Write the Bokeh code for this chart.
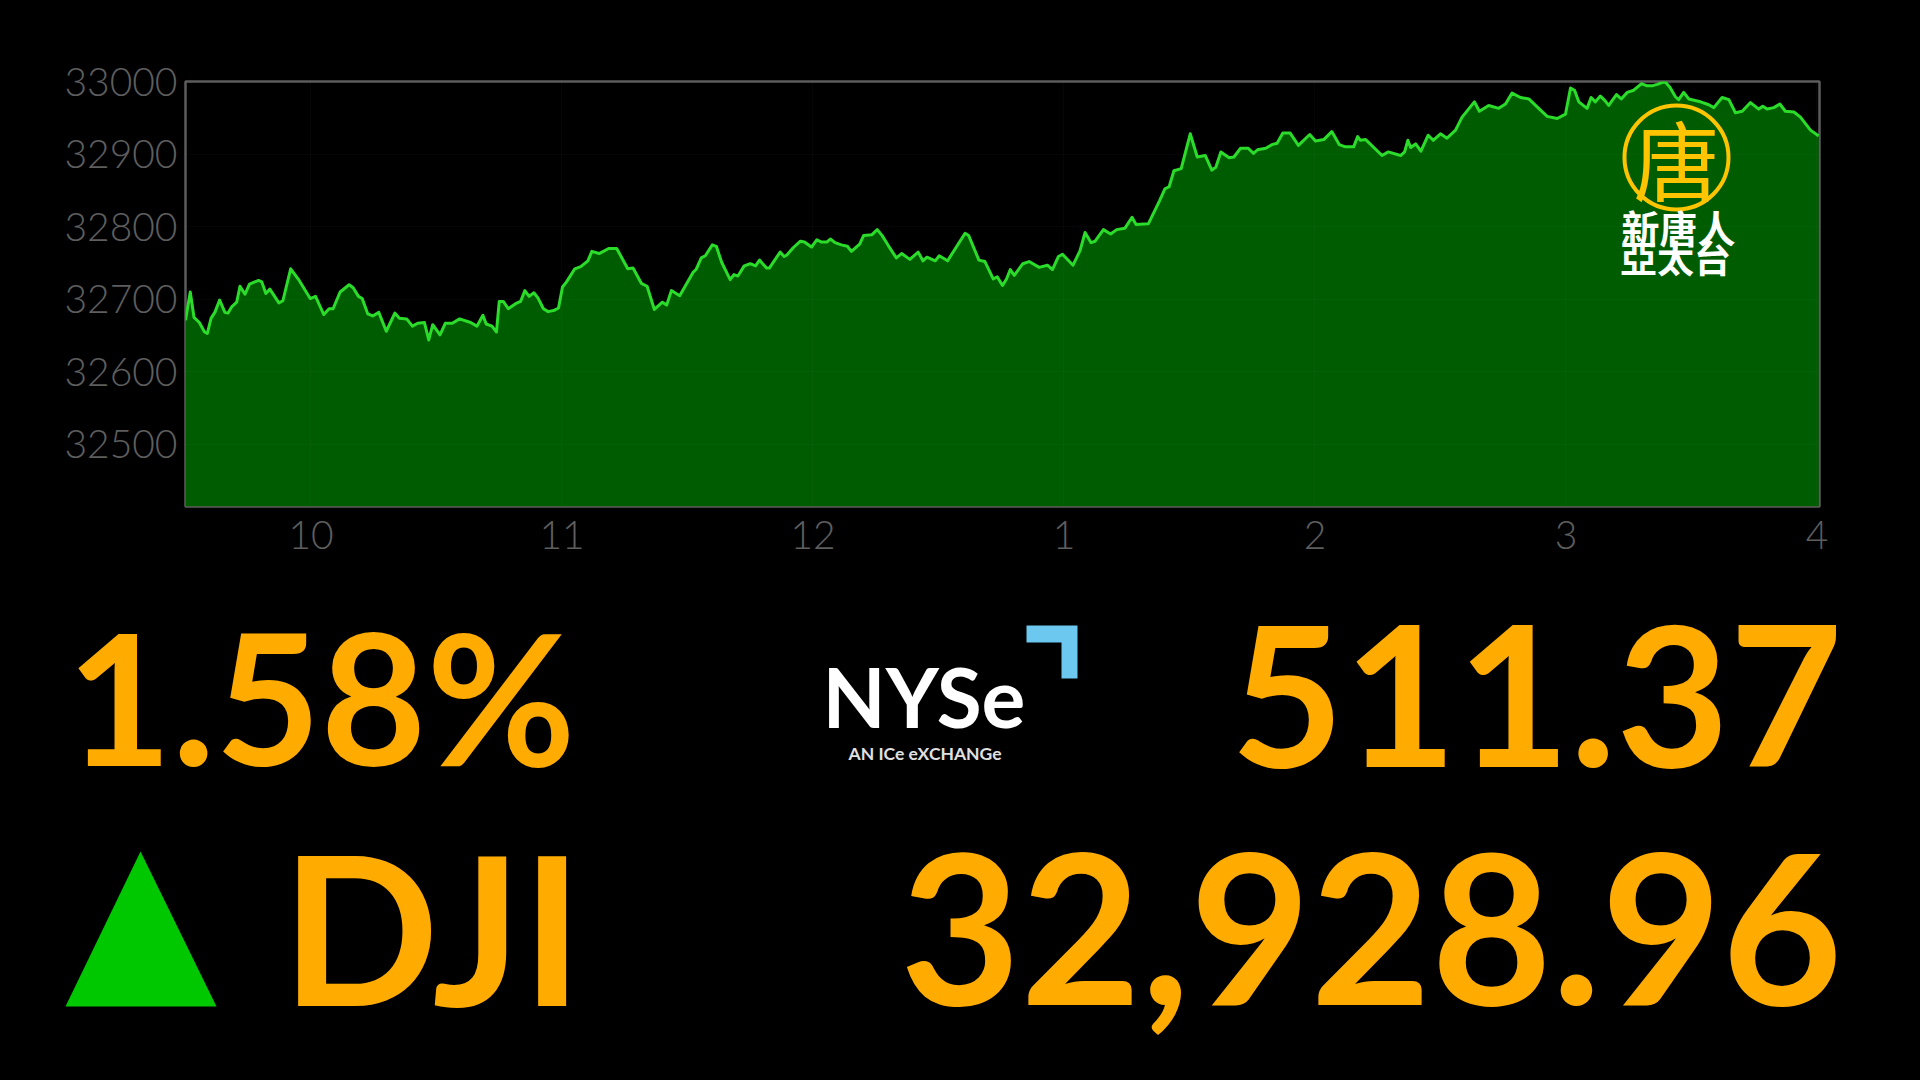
from bokeh.plotting import figure
from bokeh.layouts import column
from bokeh.models import FixedTicker, Range1d
from bokeh.core.properties import value
from bokeh.embed import file_html
from bokeh.resources import INLINE

times = [9.50,9.519,9.534,9.555,9.576,9.587,9.602,9.617,9.636,9.657,9.669,9.685,9.704,9.717,9.737,9.755,9.791,9.804,9.820,9.836,9.872,9.888,9.919,9.953,9.997,
10.018,10.051,10.072,10.088,10.116,10.152,10.168,10.189,10.204,10.226,10.246,10.270,10.300,10.334,10.352,10.381,10.404,10.425,10.452,10.469,10.485,10.514,10.535,10.563,10.592,10.636,10.661,10.685,10.698,10.721,10.739,10.750,10.766,10.786,10.815,10.835,10.852,10.869,10.888,10.904,10.926,10.945,10.970,10.986,
11.002,11.018,11.051,11.075,11.103,11.119,11.148,11.186,11.218,11.262,11.283,11.316,11.339,11.368,11.400,11.417,11.436,11.469,11.522,11.534,11.555,11.571,11.599,11.615,11.636,11.670,11.685,11.701,11.726,11.750,11.771,11.787,11.815,11.826,11.869,11.885,11.896,11.921,11.950,11.966,11.994,
12.015,12.032,12.056,12.069,12.088,12.113,12.137,12.153,12.186,12.202,12.235,12.256,12.275,12.300,12.332,12.353,12.386,12.419,12.438,12.454,12.487,12.503,12.536,12.606,12.620,12.661,12.685,12.718,12.734,12.755,12.771,12.786,12.802,12.836,12.861,12.901,12.934,12.954,12.978,12.994,
13.036,13.064,13.084,13.108,13.124,13.157,13.186,13.210,13.243,13.271,13.287,13.336,13.381,13.402,13.419,13.438,13.467,13.503,13.531,13.563,13.589,13.605,13.625,13.658,13.677,13.703,13.734,13.755,13.771,13.804,13.828,13.849,13.872,13.901,13.934,13.979,
14.002,14.035,14.067,14.097,14.121,14.154,14.170,14.181,14.202,14.267,14.292,14.341,14.357,14.370,14.381,14.401,14.422,14.451,14.471,14.500,14.526,14.560,14.586,14.619,14.635,14.655,14.692,14.732,14.759,14.785,14.819,14.852,14.885,14.925,14.965,14.998,
15.018,15.034,15.051,15.084,15.100,15.117,15.137,15.157,15.170,15.201,15.220,15.244,15.270,15.301,15.323,15.343,15.363,15.394,15.414,15.436,15.449,15.469,15.489,15.536,15.569,15.589,15.622,15.649,15.675,15.702,15.735,15.768,15.784,15.801,15.828,15.852,15.874,15.908,15.934,15.974,16.007]

dji = [32671,32710,32675,32668,32655,32653,32674,32682,32699,32682,32681,32690,32696,32718,32707,32721,32726,32724,32708,32714,32695,32698,32742,32726,32701,
32704,32679,32687,32687,32710,32720,32716,32704,32701,32680,32677,32682,32656,32681,32674,32673,32663,32667,32668,32644,32665,32651,32667,32667,32673,32668,32663,32678,32666,32663,32655,32697,32697,32687,32694,32697,32712,32704,32709,32702,32687,32683,32685,32688,
32717,32724,32742,32745,32753,32766,32763,32770,32770,32742,32743,32722,32718,32686,32696,32692,32712,32705,32737,32741,32757,32760,32775,32773,32751,32727,32734,32732,32746,32749,32746,32754,32743,32743,32765,32759,32761,32771,32780,32779,32772,
32782,32779,32779,32783,32778,32775,32773,32766,32776,32788,32789,32796,32788,32774,32757,32763,32755,32765,32753,32758,32753,32760,32753,32791,32788,32754,32752,32728,32731,32719,32728,32741,32733,32749,32752,32744,32747,32741,32759,32762,
32747,32767,32792,32778,32780,32796,32790,32796,32798,32813,32803,32804,32836,32852,32855,32877,32880,32928,32896,32898,32878,32882,32903,32895,32896,32908,32908,32901,32906,32908,32913,32915,32929,32929,32912,32927,
32918,32920,32931,32913,32910,32910,32924,32919,32920,32898,32903,32898,32903,32919,32909,32914,32904,32926,32919,32928,32922,32933,32951,32965,32972,32959,32967,32963,32969,32984,32978,32976,32965,32952,32949,32955,
32991,32988,32972,32963,32978,32972,32980,32973,32967,32982,32976,32985,32988,32997,32994,32994,32996,33000,32992,32979,32975,32985,32976,32972,32968,32964,32978,32975,32957,32959,32971,32962,32966,32962,32964,32969,32959,32958,32951,32933,32925]

y_ticks = [32500, 32600, 32700, 32800, 32900, 33000]
x_ticks = [10, 11, 12, 13, 14, 15, 16]
x_labels = ["10", "11", "12", "1", "2", "3", "4"]
percent_text = "1.58%"
change_text = "511.37"
index_text = "DJI"
close_text = "32,928.96"

AXIS_FONT = "Lato Light"
BIG_FONT = "Lato"
CJK = "Noto Sans CJK TC"
AMBER = "#ffab00"

Y_MIN, Y_MAX = 32414.6, 33000.0
X_MIN, X_MAX = 9.5, 16.01

p = figure(width=1904, height=566, x_range=Range1d(X_MIN, X_MAX), y_range=Range1d(Y_MIN, Y_MAX),
           output_backend="svg", toolbar_location=None, background_fill_color="#000000",
           border_fill_color="#000000", min_border_left=185, min_border_right=85,
           min_border_top=81, min_border_bottom=60, frame_align=False)
p.outline_line_color = "#5c5c5c"
p.outline_line_width = 2.5

p.varea(times, [Y_MIN] * len(times), dji, fill_color="#005c00")
p.line(times, dji, line_color="#2bdc2b", line_width=3, line_join="round")

for ax in (p.xaxis, p.yaxis):
    ax.axis_line_color = None
    ax.major_tick_line_color = None
    ax.minor_tick_line_color = None
    ax.major_label_text_color = "#5e5e5e"
    ax.major_label_text_font = AXIS_FONT
    ax.major_label_text_font_size = "39px"
p.xaxis.ticker = FixedTicker(ticks=x_ticks)
p.xaxis.major_label_overrides = dict(zip(x_ticks, x_labels))
p.xaxis.major_label_standoff = 8
p.yaxis.ticker = FixedTicker(ticks=y_ticks)
p.yaxis.major_label_standoff = 2
p.yaxis.formatter.use_scientific = False
p.grid.grid_line_color = "#ffffff"
p.grid.grid_line_alpha = 0.025
p.grid.level = "overlay"

def dx(px):
    return X_MIN + (px - 185) / 251.0
def dy(py):
    return Y_MAX - (py - 81) / 0.726

# watermark
p.scatter([dx(1676)], [dy(157)], size=104, marker="circle", fill_color=None, line_color="#ffc400", line_width=4)
p.text([dx(1676)], [dy(157)], text=["唐"], text_color="#ffc400", text_font=value(CJK), text_font_size="86px",
       text_align="center", text_baseline="middle")
p.text([dx(1678)], [dy(226)], text=["新唐人"], text_color="#ffffff", text_font=value(CJK), text_font_size="38px",
       text_align="center", text_baseline="middle", text_font_style="bold")
p.text([dx(1675)], [dy(257)], text=["亞太台"], text_color="#ffffff", text_font=value(CJK), text_font_size="37px",
       text_align="center", text_baseline="middle", text_font_style="bold")

# lower panel works in page pixels
q = figure(width=1904, height=506, x_range=Range1d(0, 1904), y_range=Range1d(1072, 566),
           output_backend="svg", toolbar_location=None, background_fill_color="#000000",
           border_fill_color="#000000", min_border=0, frame_align=False)
q.axis.visible = False
q.grid.visible = False
q.outline_line_color = None

def big(x, y, s, size, align="left"):
    # the SVG text sits lower than its alphabetic anchor by about 0.385 of its size
    q.text([x], [y - 0.385 * size], text=[s], text_color=AMBER, text_font=value(BIG_FONT),
           text_font_size=f"{size}px", text_font_style="bold", text_align=align, text_baseline="alphabetic")

big(66, 765, percent_text, 182)
big(1842, 771, change_text, 195, "right")
big(281, 1005, index_text, 207)
big(1842, 1009, close_text, 208, "right")

q.patch([65, 140, 216], [1006, 851, 1006], fill_color="#00c800", line_color=None)
q.patch([1026, 1077, 1077, 1061, 1061, 1026], [625, 625, 678, 678, 642, 642], fill_color="#6cc8ee", line_color=None)
q.text([822], [727 - 0.385 * 82], text=["NYSe"], text_color="#ffffff", text_font=value("Lato"), text_font_size="82px",
       text_font_style="bold", text_baseline="alphabetic")
q.text([848], [760 - 0.385 * 17.5], text=["AN ICe eXCHANGe"], text_color="#e0e0e0", text_font=value("Lato"),
       text_font_size="17.5px", text_font_style="bold", text_baseline="alphabetic")

layout = column(p, q, spacing=0)
html = file_html(layout, INLINE)
html = html.replace("<head>", "<head><style>html,body{background:#000;margin:0;}</style>", 1)
open("out.html", "w").write(html)
